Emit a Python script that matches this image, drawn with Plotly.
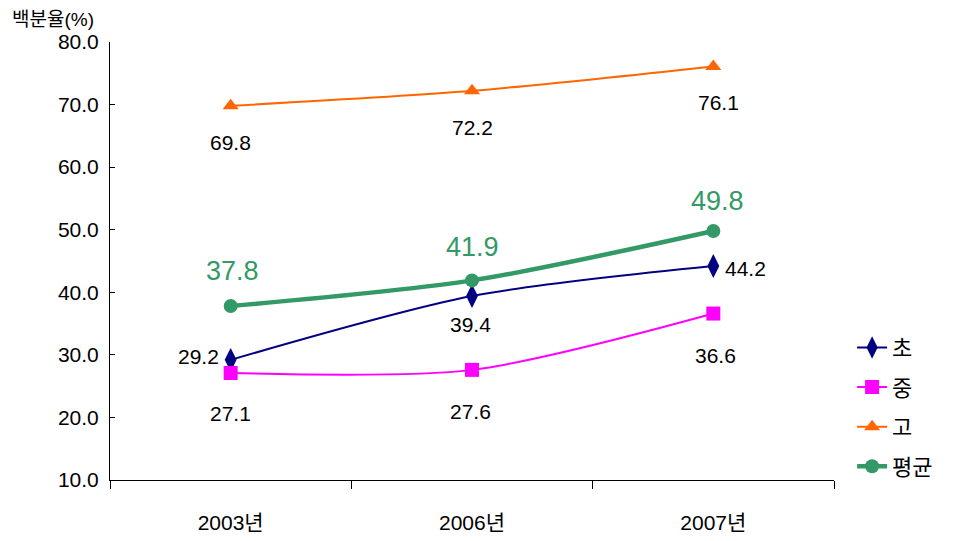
import plotly.graph_objects as go

years = ["2003년", "2006년", "2007년"]
series_names = ["초", "중", "고", "평균"]
elem = [29.2, 39.4, 44.2]
middle = [27.1, 27.6, 36.6]
high = [69.8, 72.2, 76.1]
avg = [37.8, 41.9, 49.8]
y_ticks = [10, 20, 30, 40, 50, 60, 70, 80]

FONT = "Liberation Sans, Noto Sans CJK KR"

styles = [
    dict(color="#000080", symbol="diamond-tall", size=17, width=2),
    dict(color="#FF00FF", symbol="square", size=14, width=2),
    dict(color="#FF6600", symbol="triangle-up", size=14, width=2),
    dict(color="#339966", symbol="circle", size=14, width=4.5),
]
data = [elem, middle, high, avg]

fig = go.Figure()
for name, vals, st in zip(series_names, data, styles):
    fig.add_trace(go.Scatter(
        x=years, y=vals, name=name, mode="lines+markers",
        line=dict(color=st["color"], width=st["width"], shape="spline", smoothing=0.8),
        marker=dict(color=st["color"], symbol=st["symbol"], size=st["size"]),
        legendgroup=name,
    ))

# label offsets (pixels): (xshift, yshift, xanchor)
offsets = {
    "초": [(-10, 3, "right"), (-2, -28, "center"), (10, -2, "left")],
    "중": [(0, -40, "center"), (-2, -42, "center"), (2, -42, "center")],
    "고": [(0, -37, "center"), (0, -37, "center"), (5, -36, "center")],
    "평균": [(2, 35, "center"), (0, 33, "center"), (4, 30, "center")],
}
for name, vals, st in zip(series_names, data, styles):
    is_avg = name == "평균"
    for i, v in enumerate(vals):
        xs, ys, xa = offsets[name][i]
        fig.add_annotation(
            x=years[i], y=v, text=f"{v:.1f}", showarrow=False,
            xshift=xs, yshift=ys, xanchor=xa, yanchor="middle",
            font=dict(family=FONT, size=27 if is_avg else 21,
                      color=st["color"] if is_avg else "black"),
        )

fig.add_annotation(
    x=0, y=1, xref="paper", yref="paper", text="백분율(%)", showarrow=False,
    xshift=-100, yshift=23, xanchor="left", yanchor="middle",
    font=dict(family=FONT, size=19, color="black"),
)

fig.update_layout(
    width=953, height=541,
    margin=dict(l=110, r=119, t=42, b=61),
    paper_bgcolor="white", plot_bgcolor="white",
    font=dict(family=FONT, size=21, color="black"),
    showlegend=True,
    legend=dict(x=1.025, y=0.35, xanchor="left", yanchor="top",
                font=dict(family=FONT, size=22, color="black"),
                tracegroupgap=8, bgcolor="rgba(0,0,0,0)"),
    xaxis=dict(type="category", range=[-0.5, 2.5], showline=True, linecolor="black",
               linewidth=1, ticks="outside", ticklen=8, tickcolor="black",
               tickson="boundaries", showgrid=False, zeroline=False, automargin=False,
               ticklabelstandoff=24, tickfont=dict(family=FONT, size=21)),
    yaxis=dict(range=[10, 80], tickvals=y_ticks, tickformat=".1f", showline=True,
               linecolor="black", linewidth=1, ticks="inside", ticklen=5,
               tickcolor="black", showgrid=False, zeroline=False, automargin=False,
               ticklabelstandoff=6, tickfont=dict(family=FONT, size=21)),
)

fig.write_html("out.html")
